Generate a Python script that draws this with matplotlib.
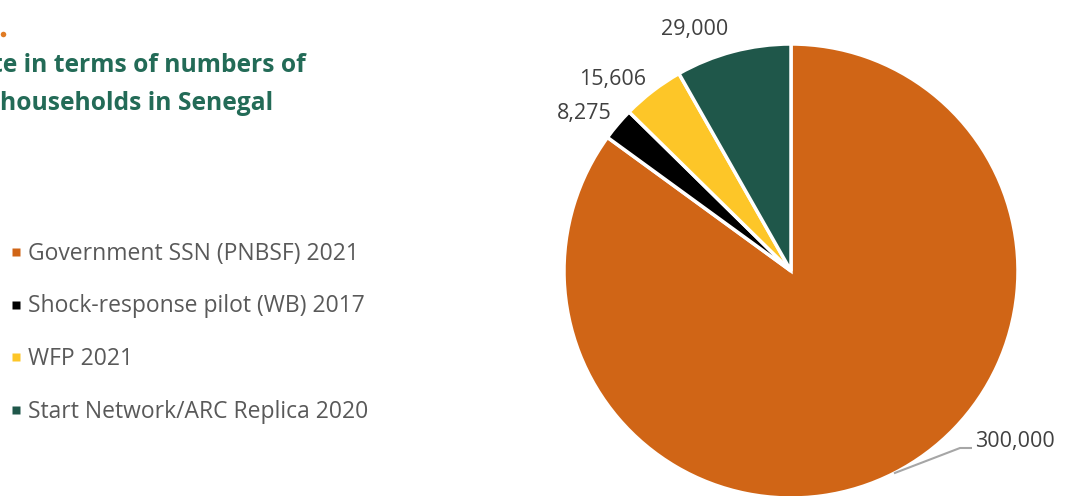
import numpy as np
import matplotlib.pyplot as plt

programmes = ['Government SSN (PNBSF) 2021', 'Shock-response pilot (WB) 2017',
              'WFP 2021', 'Start Network/ARC Replica 2020']
households = [300000, 8275, 15606, 29000]
colors = ['#D06516', '#000000', '#FDC628', '#1F574A']

W, H = 1066, 496
fig = plt.figure(figsize=(W / 100, H / 100), dpi=100)
ax = fig.add_axes([0, 0, 1, 1])
ax.set_xlim(0, W)
ax.set_ylim(0, H)
ax.set_aspect('equal')
ax.axis('off')

cx, cy, R = 791, H - 271, 227
wedges, _ = ax.pie(households, colors=colors, startangle=90, counterclock=False,
                   center=(cx, cy), radius=R,
                   wedgeprops=dict(edgecolor='white', linewidth=2.5))
ax.set_xlim(0, W)
ax.set_ylim(0, H)

txt = '#404040'
font = 'Open Sans'

# value labels for the small slices
label_pos = {1: (584, H - 114), 2: (613, H - 79), 3: (695, H - 29)}
for i, (x, y) in label_pos.items():
    ax.text(x, y, f'{households[i]:,}', ha='center', va='center',
            fontsize=15.5, color=txt, family=font)

# leader line for the big slice
w = wedges[0]
mid = np.deg2rad((w.theta1 + w.theta2) / 2)
x0, y0 = cx + R * np.cos(mid), cy + R * np.sin(mid)
ax.plot([x0, 960, 972], [y0, H - 448, H - 448], color='#A6A6A6', lw=1.5,
        solid_capstyle='butt')
ax.text(975, H - 442, f'{households[0]:,}', ha='left', va='center',
        fontsize=15.5, color=txt, family=font)

# legend
for i, name in enumerate(programmes):
    y = H - (252 + 52.7 * i)
    ax.plot(16, y, marker='s', ms=5.2, color=colors[i], mec='none')
    ax.text(28, y - 1.5, name, ha='left', va='center', fontsize=16.5,
            color='#595959', family=font)

# title (clipped at the left edge)
ax.plot(3, H - 34, marker='o', ms=4, color='#E07B24', mec='none')
ax.text(-8, H - 65, 'te in terms of numbers of', ha='left', va='center',
        fontsize=17.7, fontweight='bold', color='#236B57', family=font)
ax.text(0, H - 103, 'households in Senegal', ha='left', va='center',
        fontsize=17.7, fontweight='bold', color='#236B57', family=font)

fig.savefig('out.png', dpi=100)
